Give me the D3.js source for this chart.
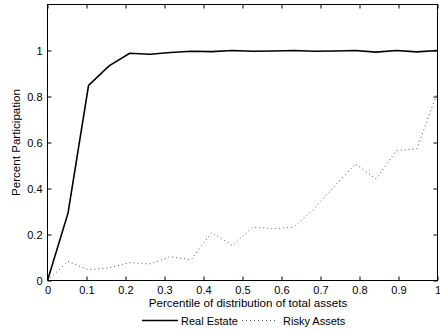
<!DOCTYPE html>
<html>
<head>
<meta charset="utf-8">
<script src="https://cdn.jsdelivr.net/npm/d3@7"></script>
<style>
  body { margin: 0; background: #fff; }
  svg { font-family: "Liberation Sans", Arial, Helvetica, sans-serif; }
</style>
</head>
<body>
<div id="chart"></div>
<script>
// percentile points (20 evenly spaced, 0..1)
const percentiles = d3.range(20).map(i => i / 19);
const realEstate = [0, 0.293, 0.848, 0.933, 0.988, 0.984, 0.991, 0.997, 0.995, 1.0,
  0.997, 0.998, 1.0, 0.997, 0.998, 1.0, 0.993, 1.0, 0.994, 1.0];
const riskyAssets = [0, 0.083, 0.047, 0.055, 0.078, 0.072, 0.104, 0.09, 0.209, 0.151,
  0.232, 0.225, 0.232, 0.312, 0.412, 0.507, 0.441, 0.565, 0.573, 0.82];
const xTicks = [0, 0.1, 0.2, 0.3, 0.4, 0.5, 0.6, 0.7, 0.8, 0.9, 1];
const yTicks = [0, 0.2, 0.4, 0.6, 0.8, 1];

const width = 440, height = 331;
const margin = { top: 4.5, right: 2.5, bottom: 50.5, left: 47.5 };
const w = width - margin.left - margin.right;
const h = height - margin.top - margin.bottom;

const svg = d3.select('#chart')
  .append('svg')
  .attr('width', width)
  .attr('height', height);

const g = svg.append('g')
  .attr('transform', 'translate(' + margin.left + ',' + margin.top + ')');

const x = d3.scaleLinear().domain([0, 1]).range([0, w]);
const y = d3.scaleLinear().domain([0, 1.2]).range([h, 0]);

const fmt = d => d === 0 || d === 1 ? String(d) : d3.format('.1f')(d);

// axes, ticks pointing inward like matlab
g.append('g')
  .attr('transform', 'translate(0,' + h + ')')
  .call(d3.axisBottom(x).tickValues(xTicks).tickSizeInner(-4).tickSizeOuter(0).tickPadding(6).tickFormat(fmt));
g.append('g')
  .call(d3.axisTop(x).tickValues(xTicks).tickSizeInner(-4).tickSizeOuter(0).tickFormat(''));
g.append('g')
  .call(d3.axisLeft(y).tickValues(yTicks).tickSizeInner(-4).tickSizeOuter(0).tickPadding(5).tickFormat(fmt));
g.append('g')
  .attr('transform', 'translate(' + w + ',0)')
  .call(d3.axisRight(y).tickValues(yTicks).tickSizeInner(-4).tickSizeOuter(0).tickFormat(''));

g.selectAll('.domain').remove();
g.selectAll('.tick line').attr('stroke', '#000');
g.selectAll('.tick text').attr('font-size', 11).attr('fill', '#000')
  .style('font-family', '"Liberation Sans", Arial, sans-serif');

g.append('rect')
  .attr('width', w).attr('height', h)
  .attr('fill', 'none').attr('stroke', '#000').attr('stroke-width', 1);

const line = d3.line()
  .x((d, i) => x(percentiles[i]))
  .y(d => y(d));

g.append('path')
  .datum(realEstate)
  .attr('d', line)
  .attr('fill', 'none')
  .attr('stroke', '#000')
  .attr('stroke-width', 1.6);

g.append('path')
  .datum(riskyAssets)
  .attr('d', line)
  .attr('fill', 'none')
  .attr('stroke', '#555')
  .attr('stroke-width', 1)
  .attr('stroke-dasharray', '1,3');

// axis labels
svg.append('text')
  .attr('x', 248)
  .attr('y', 306.5)
  .attr('text-anchor', 'middle')
  .attr('font-size', 11.6)
  .text('Percentile of distribution of total assets');

svg.append('text')
  .attr('transform', 'translate(20,' + (margin.top + h / 2) + ') rotate(-90)')
  .attr('text-anchor', 'middle')
  .attr('font-size', 11.6)
  .text('Percent Participation');

// legend
const legend = svg.append('g').attr('transform', 'translate(0,320.5)');
legend.append('line')
  .attr('x1', 142).attr('x2', 178).attr('y1', 0).attr('y2', 0)
  .attr('stroke', '#000').attr('stroke-width', 1.6);
legend.append('text')
  .attr('x', 181).attr('y', 4).attr('font-size', 11).text('Real Estate');
legend.append('line')
  .attr('x1', 242).attr('x2', 278).attr('y1', 0).attr('y2', 0)
  .attr('stroke', '#555').attr('stroke-width', 1).attr('stroke-dasharray', '1,3');
legend.append('text')
  .attr('x', 283).attr('y', 4).attr('font-size', 11).text('Risky Assets');
</script>
</body>
</html>
